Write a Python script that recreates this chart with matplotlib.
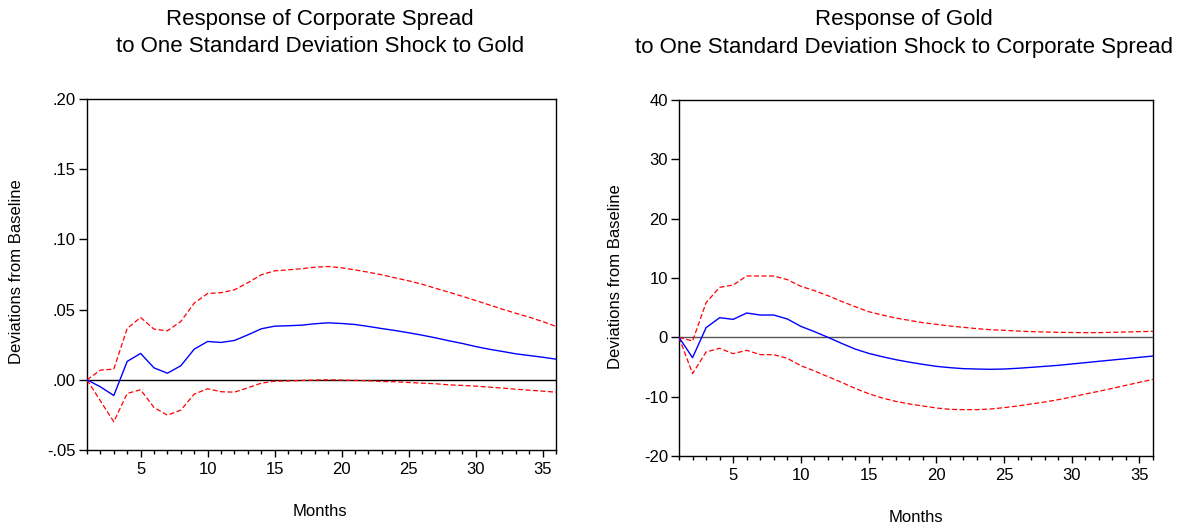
import matplotlib
matplotlib.use("Agg")
import matplotlib.pyplot as plt
from matplotlib.ticker import MultipleLocator, FixedLocator, FixedFormatter

plt.rcParams['font.family'] = ['Liberation Sans', 'DejaVu Sans']

months = list(range(1, 37))

# Corporate spread response to a gold shock
spread_irf = [0.0, -0.0050, -0.0112, 0.0131, 0.0188, 0.0085, 0.0047, 0.0100, 0.0218,
              0.0273, 0.0266, 0.0280, 0.0320, 0.0363, 0.0382, 0.0385, 0.0389, 0.0399,
              0.0406, 0.0401, 0.0394, 0.0380, 0.0365, 0.0351, 0.0335, 0.0318, 0.0299,
              0.0278, 0.0259, 0.0237, 0.0218, 0.0202, 0.0185, 0.0173, 0.0161, 0.0147]
spread_upper = [0.0, 0.0069, 0.0076, 0.0366, 0.0444, 0.0361, 0.0349, 0.0415, 0.0546,
                0.0615, 0.0620, 0.0641, 0.0691, 0.0748, 0.0776, 0.0783, 0.0791, 0.0802,
                0.0807, 0.0798, 0.0783, 0.0766, 0.0748, 0.0726, 0.0705, 0.0681, 0.0652,
                0.0624, 0.0595, 0.0565, 0.0534, 0.0503, 0.0474, 0.0446, 0.0415, 0.0380]
spread_lower = [0.0, -0.0150, -0.0299, -0.0097, -0.0071, -0.0197, -0.0252, -0.0216, -0.0102,
                -0.0064, -0.0085, -0.0088, -0.0057, -0.0024, -0.0010, -0.0008, -0.0005, -0.0002,
                0.0000, -0.0002, -0.0005, -0.0007, -0.0012, -0.0014, -0.0019, -0.0024, -0.0028,
                -0.0036, -0.0040, -0.0045, -0.0052, -0.0059, -0.0067, -0.0074, -0.0081, -0.0088]

# Gold response to a corporate spread shock
gold_irf = [0.0, -3.43, 1.63, 3.31, 3.03, 4.10, 3.76, 3.76, 3.09, 1.85, 0.96, 0.0,
            -1.01, -1.97, -2.70, -3.26, -3.76, -4.18, -4.55, -4.89, -5.11, -5.28, -5.34, -5.39,
            -5.34, -5.22, -5.06, -4.89, -4.72, -4.49, -4.27, -4.04, -3.82, -3.60, -3.37, -3.15]
gold_upper = [0.0, -0.62, 5.84, 8.43, 8.82, 10.34, 10.34, 10.34, 9.72, 8.60, 7.87, 7.02,
              6.07, 5.17, 4.33, 3.76, 3.25, 2.87, 2.47, 2.19, 1.91, 1.69, 1.46, 1.29,
              1.18, 1.07, 0.96, 0.90, 0.84, 0.81, 0.79, 0.79, 0.84, 0.90, 0.96, 1.01]
gold_lower = [0.0, -6.12, -2.47, -1.85, -2.75, -2.19, -2.92, -2.92, -3.54, -4.78, -5.67, -6.63,
              -7.58, -8.60, -9.49, -10.22, -10.79, -11.22, -11.57, -11.91, -12.13, -12.19, -12.19, -12.08,
              -11.85, -11.57, -11.24, -10.90, -10.51, -10.06, -9.55, -9.10, -8.60, -8.09, -7.58, -7.08]

spread_yticks = [-0.05, 0.00, 0.05, 0.10, 0.15, 0.20]
spread_ylabels = ['-.05', '.00', '.05', '.10', '.15', '.20']
gold_yticks = [-20, -10, 0, 10, 20, 30, 40]
gold_ylabels = ['-20', '-10', '0', '10', '20', '30', '40']
xticks = [5, 10, 15, 20, 25, 30, 35]

W, H = 1199, 523
fig = plt.figure(figsize=(W / 100, H / 100), dpi=100)


def px_axes(x0, y0, x1, y1):
    return fig.add_axes([x0 / W, 1 - y1 / H, (x1 - x0) / W, (y1 - y0) / H])


def style(ax, ylim, yticks, ylabels, zero_color):
    ax.axhline(0, color=zero_color, lw=1.0, zorder=1)
    ax.set_xlim(1, 36)
    ax.set_ylim(*ylim)
    ax.yaxis.set_major_locator(FixedLocator(yticks))
    ax.yaxis.set_major_formatter(FixedFormatter(ylabels))
    ax.xaxis.set_major_locator(FixedLocator(xticks))
    ax.xaxis.set_minor_locator(MultipleLocator(1))
    ax.tick_params(axis='y', which='major', direction='out', length=6, width=1,
                   labelsize=12, colors='black', pad=2)
    ax.tick_params(axis='x', which='major', direction='out', length=5, width=1,
                   labelsize=12, colors='black', pad=4)
    ax.tick_params(axis='x', which='minor', direction='out', length=3, width=1)
    for s in ax.spines.values():
        s.set_linewidth(1.0)


def draw(ax, irf, upper, lower):
    ax.plot(months, upper, color='#ff0000', lw=0.9, dashes=(4, 2), zorder=3)
    ax.plot(months, lower, color='#ff0000', lw=0.9, dashes=(4, 2), zorder=3)
    ax.plot(months, irf, color='#0000ff', lw=1.0, zorder=4)


ax1 = px_axes(87, 99, 556, 450)
draw(ax1, spread_irf, spread_upper, spread_lower)
style(ax1, (-0.05, 0.20), spread_yticks, spread_ylabels, 'black')

ax2 = px_axes(679, 100, 1153, 456)
draw(ax2, gold_irf, gold_upper, gold_lower)
style(ax2, (-20, 40), gold_yticks, gold_ylabels, '#555555')

title_fs = 16
fig.text(320 / W, 1 - 20 / H, 'Response of Corporate Spread', ha='center', va='center', fontsize=title_fs)
fig.text(320 / W, 1 - 47 / H, 'to One Standard Deviation Shock to Gold', ha='center', va='center', fontsize=title_fs)
fig.text(904 / W, 1 - 20 / H, 'Response of Gold', ha='center', va='center', fontsize=title_fs)
fig.text(904 / W, 1 - 47 / H, 'to One Standard Deviation Shock to Corporate Spread', ha='center', va='center', fontsize=title_fs)

fig.text(320 / W, 1 - 511 / H, 'Months', ha='center', va='center', fontsize=12)
fig.text(916 / W, 1 - 517 / H, 'Months', ha='center', va='center', fontsize=12)
fig.text(17 / W, 1 - 272 / H, 'Deviations from Baseline', ha='center', va='center', rotation=90, fontsize=12)
fig.text(615 / W, 1 - 277 / H, 'Deviations from Baseline', ha='center', va='center', rotation=90, fontsize=12)

fig.savefig('out.png', dpi=100)
